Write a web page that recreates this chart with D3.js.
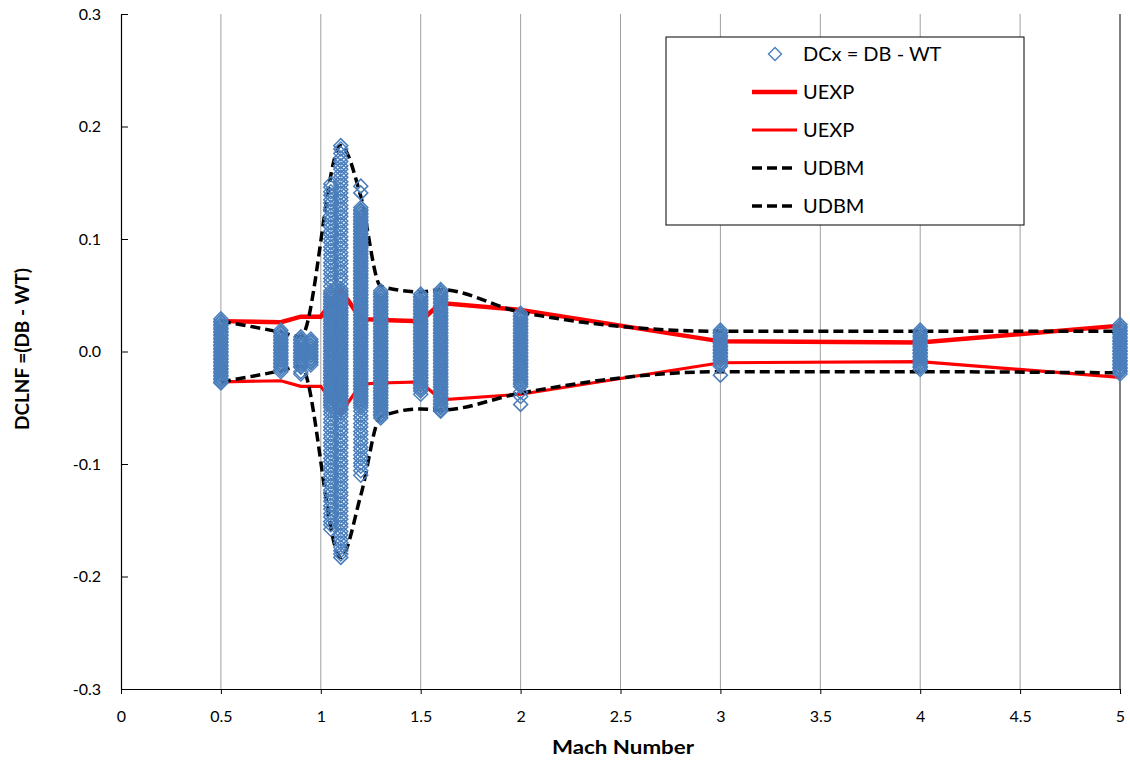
<!DOCTYPE html>
<html>
<head>
<meta charset="utf-8">
<script src="https://cdn.jsdelivr.net/npm/d3@7"></script>
<style>
body { margin: 0; background: #fff; }
svg text { font-family: Lato, "Open Sans", sans-serif; fill: #000; }
</style>
</head>
<body>
<script>
// Mach numbers of the DCx columns
var machCols = [0.5, 0.8, 0.9, 0.95, 1.05, 1.1, 1.2, 1.3, 1.5, 1.6, 2, 3, 4, 5];

// DCx = DB - WT, one list per Mach column
var dcx05 = [0.029, 0.027, 0.026, 0.024, 0.023, 0.021, 0.020, 0.018, 0.017, 0.015, 0.014, 0.012, 0.011, 0.009, 0.008, 0.006, 0.005, 0.003, 0.002, 0.000,
  -0.001, -0.003, -0.004, -0.006, -0.007, -0.009, -0.010, -0.012, -0.013, -0.015, -0.016, -0.018, -0.019, -0.021, -0.022, -0.024, -0.025, -0.027, -0.028];
var dcx08 = [0.019, 0.017, 0.016, 0.014, 0.013, 0.011, 0.010, 0.008, 0.007, 0.005, 0.004, 0.002, 0.001,
  -0.001, -0.002, -0.004, -0.005, -0.007, -0.008, -0.010, -0.011, -0.013, -0.014, -0.016, -0.018];
var dcx09 = [0.013, 0.011, 0.010, 0.008, 0.007, 0.005, 0.004, 0.002, 0.001,
  -0.001, -0.002, -0.004, -0.005, -0.007, -0.008, -0.010, -0.011, -0.013, -0.014, -0.018, -0.020];
var dcx095 = [0.011, 0.009, 0.008, 0.006, 0.005, 0.003, 0.002, 0.000, -0.001, -0.003, -0.004, -0.006, -0.007, -0.009, -0.010, -0.012];
var dcx105 = [0.149, 0.146, 0.142, 0.139, 0.135, 0.132, 0.128, 0.125, 0.121, 0.118, 0.114, 0.111, 0.107, 0.104, 0.100, 0.097, 0.093,
  0.090, 0.086, 0.083, 0.079, 0.076, 0.072, 0.069, 0.065, 0.062, 0.058,
  0.054, 0.052, 0.051, 0.049, 0.048, 0.046, 0.045, 0.043, 0.042, 0.040, 0.039, 0.037, 0.036, 0.034, 0.033, 0.031, 0.030, 0.028, 0.027, 0.025,
  0.024, 0.022, 0.021, 0.019, 0.018, 0.016, 0.015, 0.013, 0.012, 0.010, 0.009, 0.007, 0.006, 0.004, 0.003, 0.001, 0.000,
  -0.002, -0.003, -0.005, -0.006, -0.008, -0.009, -0.011, -0.012, -0.014, -0.015, -0.017, -0.018, -0.020, -0.021, -0.023, -0.024,
  -0.026, -0.027, -0.029, -0.030, -0.032, -0.033, -0.035, -0.036, -0.038, -0.039, -0.041, -0.042, -0.044, -0.045, -0.047, -0.048, -0.050,
  -0.053, -0.056, -0.060, -0.063, -0.067, -0.070, -0.074, -0.077, -0.081, -0.084, -0.088, -0.091, -0.095, -0.098, -0.102, -0.105,
  -0.109, -0.112, -0.116, -0.119, -0.123, -0.126, -0.130, -0.133, -0.137, -0.140, -0.144, -0.147, -0.151, -0.154, -0.158];
var dcx11 = [0.183, 0.180, 0.176, 0.172, 0.169, 0.165, 0.162, 0.158, 0.155, 0.151, 0.148, 0.144, 0.141, 0.137, 0.134, 0.130, 0.127, 0.123,
  0.120, 0.116, 0.113, 0.109, 0.106, 0.102, 0.099, 0.095, 0.092, 0.088, 0.085, 0.081, 0.078, 0.074, 0.071, 0.067, 0.064, 0.060,
  0.056, 0.054, 0.053, 0.051, 0.050, 0.048, 0.047, 0.045, 0.044, 0.042, 0.041, 0.039, 0.038, 0.036, 0.035, 0.033, 0.032, 0.030, 0.029,
  0.027, 0.026, 0.024, 0.023, 0.021, 0.020, 0.018, 0.017, 0.015, 0.014, 0.012, 0.011, 0.009, 0.008, 0.006, 0.005, 0.003, 0.002, 0.000,
  -0.001, -0.003, -0.004, -0.006, -0.007, -0.009, -0.010, -0.012, -0.013, -0.015, -0.016, -0.018, -0.019, -0.021, -0.022, -0.024, -0.025,
  -0.027, -0.028, -0.030, -0.031, -0.033, -0.034, -0.036, -0.037, -0.039, -0.040, -0.042, -0.043, -0.045, -0.046, -0.048, -0.049, -0.051, -0.052,
  -0.055, -0.058, -0.062, -0.065, -0.069, -0.072, -0.076, -0.079, -0.083, -0.086, -0.090, -0.093, -0.097, -0.100, -0.104, -0.107,
  -0.111, -0.114, -0.118, -0.121, -0.125, -0.128, -0.132, -0.135, -0.139, -0.142, -0.146, -0.149, -0.153, -0.156, -0.160, -0.163,
  -0.167, -0.170, -0.174, -0.177, -0.180, -0.183];
var dcx12 = [0.147, 0.141,
  0.128, 0.126, 0.125, 0.123, 0.122, 0.120, 0.119, 0.117, 0.116, 0.114, 0.113, 0.111, 0.110, 0.108, 0.107, 0.105, 0.104, 0.102, 0.101,
  0.099, 0.098, 0.096, 0.095, 0.093, 0.092, 0.090, 0.089, 0.087, 0.086, 0.084, 0.083, 0.081, 0.080, 0.078, 0.077, 0.075, 0.074,
  0.072, 0.071, 0.069, 0.068, 0.066, 0.065, 0.063, 0.062, 0.060, 0.059, 0.057,
  0.056, 0.054, 0.053, 0.051, 0.050, 0.048, 0.047, 0.045, 0.044, 0.042, 0.041, 0.039, 0.038, 0.036, 0.035, 0.033, 0.032, 0.030, 0.029,
  0.027, 0.026, 0.024, 0.023, 0.021, 0.020, 0.018, 0.017, 0.015, 0.014, 0.012, 0.011, 0.009, 0.008, 0.006, 0.005, 0.003, 0.002, 0.000,
  -0.001, -0.003, -0.004, -0.006, -0.007, -0.009, -0.010, -0.012, -0.013, -0.015, -0.016, -0.018, -0.019, -0.021, -0.022, -0.024, -0.025,
  -0.027, -0.028, -0.030, -0.031, -0.033, -0.034, -0.036, -0.037, -0.039, -0.040, -0.042, -0.043, -0.045, -0.046, -0.048,
  -0.050, -0.053, -0.057, -0.060, -0.064, -0.067, -0.071, -0.074, -0.078, -0.081, -0.085, -0.088, -0.092, -0.095, -0.099, -0.102, -0.106, -0.110];
var dcx13 = [0.054, 0.052, 0.051, 0.049, 0.048, 0.046, 0.045, 0.043, 0.042, 0.040, 0.039, 0.037, 0.036, 0.034, 0.033, 0.031, 0.030, 0.028, 0.027,
  0.025, 0.024, 0.022, 0.021, 0.019, 0.018, 0.016, 0.015, 0.013, 0.012, 0.010, 0.009, 0.007, 0.006, 0.004, 0.003, 0.001, 0.000,
  -0.002, -0.003, -0.005, -0.006, -0.008, -0.009, -0.011, -0.012, -0.014, -0.015, -0.017, -0.018, -0.020, -0.021, -0.023, -0.024,
  -0.026, -0.027, -0.029, -0.030, -0.032, -0.033, -0.035, -0.036, -0.038, -0.039, -0.041, -0.042, -0.044, -0.045, -0.047, -0.048,
  -0.050, -0.051, -0.053, -0.054, -0.056, -0.057, -0.059];
var dcx15 = [0.051, 0.049, 0.048, 0.046, 0.045, 0.043, 0.042, 0.040, 0.039, 0.037, 0.036, 0.034, 0.033, 0.031, 0.030, 0.028, 0.027,
  0.025, 0.024, 0.022, 0.021, 0.019, 0.018, 0.016, 0.015, 0.013, 0.012, 0.010, 0.009, 0.007, 0.006, 0.004, 0.003, 0.001, 0.000,
  -0.002, -0.003, -0.005, -0.006, -0.008, -0.009, -0.011, -0.012, -0.014, -0.015, -0.017, -0.018, -0.020, -0.021, -0.023, -0.024,
  -0.026, -0.027, -0.029, -0.030, -0.032, -0.033, -0.035, -0.038];
var dcx16 = [0.055, 0.053, 0.052, 0.050, 0.049, 0.047, 0.046, 0.044, 0.043, 0.041, 0.040, 0.038, 0.037, 0.035, 0.034, 0.032, 0.031, 0.029, 0.028,
  0.026, 0.025, 0.023, 0.022, 0.020, 0.019, 0.017, 0.016, 0.014, 0.013, 0.011, 0.010, 0.008, 0.007, 0.005, 0.004, 0.002, 0.001,
  -0.001, -0.002, -0.004, -0.005, -0.007, -0.008, -0.010, -0.011, -0.013, -0.014, -0.016, -0.017, -0.019, -0.020, -0.022, -0.023,
  -0.025, -0.026, -0.028, -0.029, -0.031, -0.032, -0.034, -0.035, -0.037, -0.038, -0.040, -0.041, -0.043, -0.044, -0.046, -0.047,
  -0.049, -0.050, -0.052, -0.053];
var dcx20 = [0.034, 0.032, 0.031, 0.029, 0.028, 0.026, 0.025, 0.023, 0.022, 0.020, 0.019, 0.017, 0.016, 0.014, 0.013, 0.011, 0.010,
  0.008, 0.007, 0.005, 0.004, 0.002, 0.001, -0.001, -0.002, -0.004, -0.005, -0.007, -0.008, -0.010, -0.011, -0.013, -0.014,
  -0.016, -0.017, -0.019, -0.020, -0.022, -0.023, -0.025, -0.026, -0.028, -0.029, -0.031, -0.036, -0.040, -0.047];
var dcx30 = [0.019, 0.017, 0.016, 0.014, 0.013, 0.011, 0.010, 0.008, 0.007, 0.005, 0.004, 0.002, 0.001,
  -0.001, -0.002, -0.004, -0.005, -0.007, -0.008, -0.010, -0.011, -0.013, -0.021];
var dcx40 = [0.019, 0.017, 0.016, 0.014, 0.013, 0.011, 0.010, 0.008, 0.007, 0.005, 0.004, 0.002, 0.001,
  -0.001, -0.002, -0.004, -0.005, -0.007, -0.008, -0.010, -0.011, -0.013, -0.014, -0.016];
var dcx50 = [0.024, 0.022, 0.021, 0.019, 0.018, 0.016, 0.015, 0.013, 0.012, 0.010, 0.009, 0.007, 0.006, 0.004, 0.003, 0.001, 0.000,
  -0.002, -0.003, -0.005, -0.006, -0.008, -0.009, -0.011, -0.012, -0.014, -0.015, -0.017, -0.018, -0.020];
var dcxCols = [dcx05, dcx08, dcx09, dcx095, dcx105, dcx11, dcx12, dcx13, dcx15, dcx16, dcx20, dcx30, dcx40, dcx50];

// UEXP band (straight segments)
var uexpMach = [0.5, 0.8, 0.9, 1.0, 1.1, 1.2, 1.3, 1.5, 1.6, 2, 3, 4, 5];
var uexpHi = [0.027, 0.026, 0.031, 0.031, 0.055, 0.029, 0.028, 0.027, 0.043, 0.037, 0.009, 0.008, 0.023];
var uexpLo = [-0.027, -0.026, -0.031, -0.031, -0.055, -0.029, -0.028, -0.027, -0.043, -0.038, -0.010, -0.009, -0.023];

// UDBM band (smoothed)
var udbmMach = [0.5, 0.8, 0.9, 1.1, 1.2, 1.3, 1.5, 1.6, 2, 3, 4, 5];
var udbmHi = [0.027, 0.017, 0.013, 0.183, 0.138, 0.058, 0.053, 0.055, 0.035, 0.018, 0.018, 0.018];
var udbmLo = [-0.027, -0.017, -0.013, -0.183, -0.128, -0.058, -0.051, -0.052, -0.037, -0.018, -0.018, -0.019];

var xTicks = [0, 0.5, 1, 1.5, 2, 2.5, 3, 3.5, 4, 4.5, 5];
var yTicks = [-0.3, -0.2, -0.1, 0, 0.1, 0.2, 0.3];
var legendLabels = ["DCx = DB - WT", "UEXP", "UEXP", "UDBM", "UDBM"];

//set up width, height and margins
var margin = {top: 14, right: 10, bottom: 73, left: 121},
    width = 1130 - margin.left - margin.right,
    height = 762 - margin.top - margin.bottom;

var blue = "#4A7EBB";
var diamond = "M0,-7L7,0L0,7L-7,0Z";

var svg = d3.select("body").append("svg")
  .attr("width", 1130)
  .attr("height", 762);

var g = svg.append("g")
  .attr("transform", "translate(" + margin.left + "," + margin.top + ")");

var x = d3.scaleLinear().domain([0, 5]).range([0, width]);
var y = d3.scaleLinear().domain([-0.3, 0.3]).range([height, 0]);

// vertical gridlines
g.append("g")
  .selectAll("line")
  .data(xTicks.slice(1))
  .enter().append("line")
  .attr("x1", d => x(d)).attr("x2", d => x(d))
  .attr("y1", 0).attr("y2", height)
  .attr("stroke", d => d === 5 ? "#000" : "#A0A0A0")
  .attr("stroke-width", 1);

var line = d3.line().x(d => x(d[0])).y(d => y(d[1]));
var smooth = d3.line().x(d => x(d[0])).y(d => y(d[1])).curve(d3.curveMonotoneX);

// UEXP lines
g.append("path").datum(d3.zip(uexpMach, uexpHi))
  .attr("d", line).attr("fill", "none").attr("stroke", "#FF0000").attr("stroke-width", 4.5);
g.append("path").datum(d3.zip(uexpMach, uexpLo))
  .attr("d", line).attr("fill", "none").attr("stroke", "#FF0000").attr("stroke-width", 3.2);

// UDBM lines
[udbmHi, udbmLo].forEach(function(vals) {
  g.append("path").datum(d3.zip(udbmMach, vals))
    .attr("d", smooth).attr("fill", "none").attr("stroke", "#000")
    .attr("stroke-width", 3.5).attr("stroke-dasharray", "10,5");
});

// DCx points
var points = [];
dcxCols.forEach(function(vals, i) {
  vals.forEach(function(v) { points.push({mach: machCols[i], dcx: v}); });
});

g.append("g")
  .selectAll("path")
  .data(points)
  .enter().append("path")
  .attr("d", diamond)
  .attr("transform", d => "translate(" + x(d.mach) + "," + y(d.dcx) + ")")
  .attr("fill", "none")
  .attr("stroke", blue)
  .attr("stroke-width", 1.5);

// axes
var xAxis = d3.axisBottom(x).tickValues(xTicks).tickFormat(d => String(d))
  .tickSizeInner(5).tickSizeOuter(0).tickPadding(17);
var yAxis = d3.axisLeft(y).tickValues(yTicks).tickFormat(d => d.toFixed(1))
  .tickSizeInner(-7).tickSizeOuter(0).tickPadding(20);

var gx = g.append("g").attr("transform", "translate(0," + height + ")").call(xAxis);
var gy = g.append("g").call(yAxis);
[gx, gy].forEach(function(a) {
  a.select(".domain").attr("stroke", "#000").attr("stroke-width", 1.2);
  a.selectAll(".tick line").attr("stroke", "#000");
  a.selectAll("text").attr("font-size", 16).attr("font-family", "Lato, sans-serif").attr("fill", "#000");
});

// titles
svg.append("text")
  .attr("x", 623).attr("y", 754)
  .attr("text-anchor", "middle")
  .attr("font-size", 19).attr("font-weight", "bold")
  .attr("textLength", 142).attr("lengthAdjust", "spacingAndGlyphs")
  .text("Mach Number");

svg.append("text")
  .attr("transform", "translate(29,349) rotate(-90)")
  .attr("text-anchor", "middle")
  .attr("font-size", 19).attr("font-weight", "bold")
  .attr("textLength", 162).attr("lengthAdjust", "spacingAndGlyphs")
  .text("DCLNF =(DB - WT)");

// legend
var legend = svg.append("g");
legend.append("rect")
  .attr("x", 666).attr("y", 37).attr("width", 358).attr("height", 188)
  .attr("fill", "#fff").attr("stroke", "#000").attr("stroke-width", 1);

var rowY = d3.scalePoint().domain(d3.range(legendLabels.length)).range([54, 206]);

legend.append("path")
  .attr("d", "M0,-6.5L6.5,0L0,6.5L-6.5,0Z")
  .attr("transform", "translate(775," + rowY(0) + ")")
  .attr("fill", "none").attr("stroke", blue).attr("stroke-width", 1.4);

var sampleStyle = [null,
  {stroke: "#FF0000", w: 4.5, dash: null},
  {stroke: "#FF0000", w: 3.2, dash: null},
  {stroke: "#000", w: 3.5, dash: "10,5"},
  {stroke: "#000", w: 3.5, dash: "10,5"}];

legendLabels.forEach(function(lab, i) {
  if (i > 0) {
    legend.append("line")
      .attr("x1", 752).attr("x2", 797)
      .attr("y1", rowY(i)).attr("y2", rowY(i))
      .attr("stroke", sampleStyle[i].stroke)
      .attr("stroke-width", sampleStyle[i].w)
      .attr("stroke-dasharray", sampleStyle[i].dash);
  }
  legend.append("text")
    .attr("x", 803).attr("y", rowY(i))
    .attr("dy", "0.36em")
    .attr("font-size", 20)
    .text(lab);
});
</script>
</body>
</html>
